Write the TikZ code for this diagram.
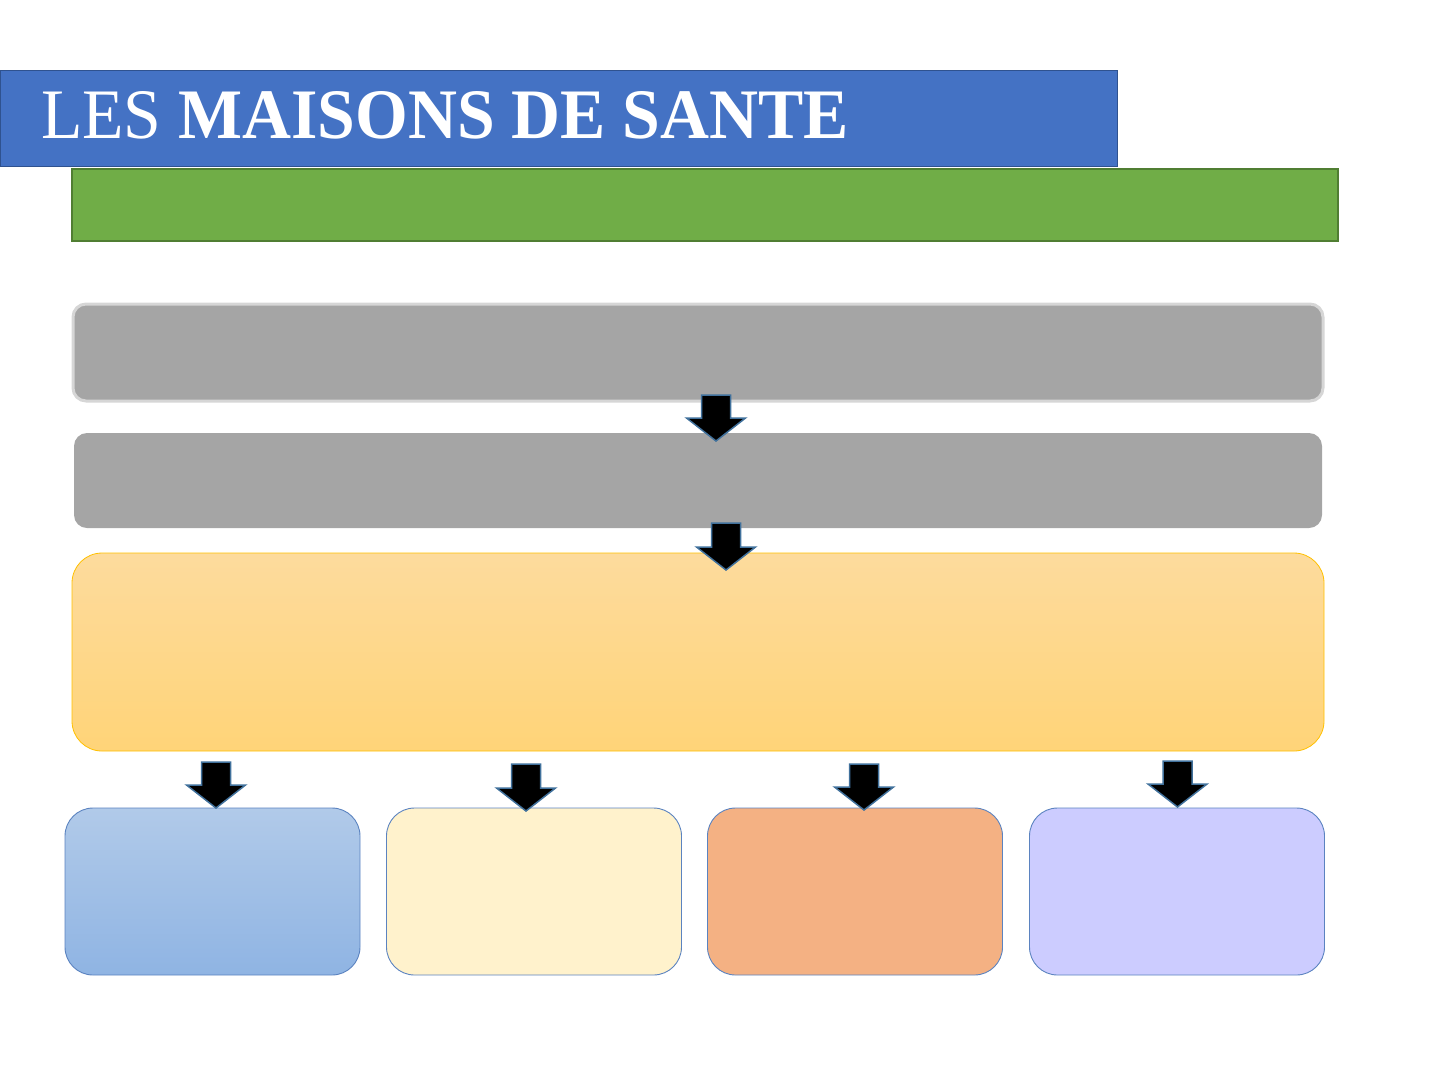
\documentclass[tikz,border=0pt]{standalone}
\usepackage{fontspec}
\setmainfont{Liberation Serif}
\newfontfamily\titlefont[FakeStretch=0.955]{Liberation Serif}
\usetikzlibrary{calc}
\definecolor{titleblue}{HTML}{4472C4}
\definecolor{titleedge}{HTML}{2F528F}
\definecolor{barfill}{HTML}{70AD47}
\definecolor{baredge}{HTML}{507E32}
\definecolor{grayfill}{HTML}{A5A5A5}
\definecolor{grayedge}{HTML}{D6D6D6}
\definecolor{orangetop}{HTML}{FDDB9D}
\definecolor{orangebot}{HTML}{FFD478}
\definecolor{orangeedge}{HTML}{FFC000}
\definecolor{bluetop}{HTML}{B1CAE9}
\definecolor{bluebot}{HTML}{8FB4E3}
\definecolor{lightyellow}{HTML}{FFF2CC}
\definecolor{salmon}{HTML}{F4B183}
\definecolor{lavender}{HTML}{CCCCFF}
\definecolor{boxedge}{HTML}{5B83C0}
\definecolor{arrowedge}{HTML}{41719C}
\tikzset{
  plain/.style={inner sep=0pt,outer sep=0pt},
  box/.style={plain,rounded corners=28pt,draw=boxedge,line width=0.9pt,
    minimum width=295pt,minimum height=167pt},
  blockarrow/.style={fill=black,draw=arrowedge,line width=1.5pt,line join=miter}
}
\newcommand*{\dnarrow}[2]{%
  \draw[blockarrow] ($(#1)+(-14.5,0)$) -- ($(#1)+(14.5,0)$) -- ($(#2)+(14.5,-23)$)
    -- ($(#2)+(29.5,-23)$) -- (#2) -- ($(#2)+(-29.5,-23)$) -- ($(#2)+(-14.5,-23)$) -- cycle;}

\begin{document}
\begin{tikzpicture}[x=1pt,y=-1pt]
\useasboundingbox (0,0) rectangle (1440,1080);
% title and bar
\node[plain,fill=titleblue,draw=titleedge,line width=1.5pt,minimum width=1117pt,minimum height=96pt] (T) at (559,118.5) {};
\node[plain,anchor=base west,text=white,font=\titlefont\fontsize{71}{74}\selectfont] (TT) at (41,138) {LES \textbf{MAISONS DE SANTE}};
\node[plain,fill=barfill,draw=baredge,line width=1.5pt,minimum width=1266pt,minimum height=72pt] (G) at (705,205) {};
% main column
\node[plain,rounded corners=13pt,fill=grayfill,draw=grayedge,line width=3pt,minimum width=1250pt,minimum height=97pt] (A1) at (698,352.5) {};
\node[plain,rounded corners=13pt,fill=grayfill,minimum width=1248pt,minimum height=95pt] (A2) at (698,480.5) {};
\node[plain,rounded corners=30pt,top color=orangetop,bottom color=orangebot,draw=orangeedge,line width=0.8pt,minimum width=1252pt,minimum height=198pt] (O) at (698,652) {};
% bottom row
\node[box,top color=bluetop,bottom color=bluebot] (B1) at (212.5,891.5) {};
\node[box,fill=lightyellow] (B2) at (534,891.5) {};
\node[box,fill=salmon] (B3) at (855,891.5) {};
\node[box,fill=lavender] (B4) at (1177,891.5) {};
% arrows
\coordinate (a1) at (716,395);   \coordinate (b1) at (716,441);
\coordinate (a2) at (726,523);   \coordinate (b2) at (726,570);
\coordinate (a3) at (216,762);   \coordinate (b3) at (216,808);
\coordinate (a4) at (526,764);   \coordinate (b4) at (526,811);
\coordinate (a5) at (864,764);   \coordinate (b5) at (864,810);
\coordinate (a6) at (1177.5,761); \coordinate (b6) at (1177.5,807);
\foreach \i in {1,...,6}
  {\dnarrow{a\i}{b\i}}
\end{tikzpicture}
\end{document}
